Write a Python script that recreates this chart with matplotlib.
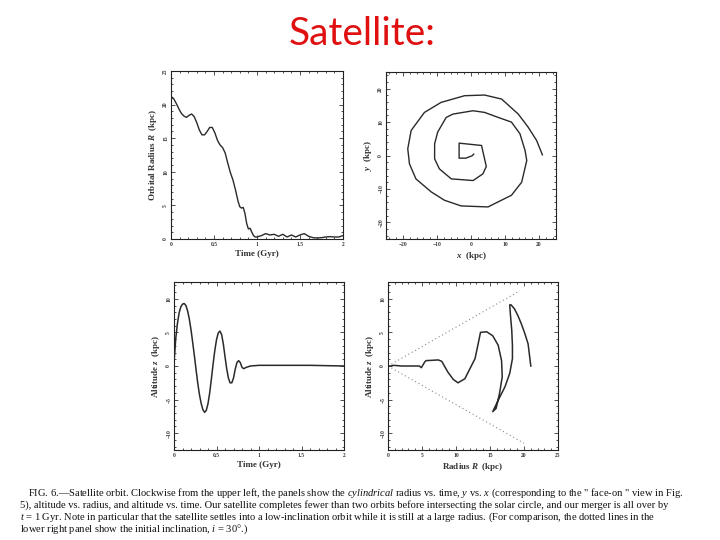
import matplotlib
matplotlib.use("Agg")
import matplotlib.pyplot as plt
from matplotlib.ticker import MultipleLocator, FuncFormatter

plt.rcParams['mathtext.fontset'] = 'custom'
plt.rcParams['mathtext.rm'] = 'Liberation Serif'
plt.rcParams['mathtext.it'] = 'Liberation Serif:italic'
plt.rcParams['mathtext.sf'] = 'Liberation Serif:bold:italic'

# ---- data: orbital radius vs time ----
t1 = [0, 0.03, 0.06, 0.09, 0.12, 0.15, 0.18, 0.21, 0.24, 0.27, 0.30, 0.33, 0.36, 0.39,
      0.42, 0.45, 0.48, 0.51, 0.54, 0.57, 0.60, 0.63, 0.66, 0.69, 0.72, 0.75, 0.78, 0.80,
      0.82, 0.84, 0.86, 0.88, 0.90, 0.92, 0.94, 0.96, 0.98, 1.0, 1.05, 1.1, 1.15, 1.2,
      1.25, 1.3, 1.35, 1.4, 1.45, 1.5, 1.55, 1.6, 1.65, 1.7, 1.75, 1.8, 1.85, 1.9, 1.95, 2.0]
R1 = [21.2, 20.9, 20.2, 19.4, 18.7, 18.3, 18.1, 18.4, 18.6, 18.2, 17.3, 16.2, 15.5, 15.5,
      16.0, 16.6, 16.6, 15.8, 14.7, 14.0, 13.6, 12.8, 11.3, 9.9, 8.8, 7.3, 5.6, 4.8,
      4.6, 4.7, 3.8, 2.3, 1.5, 1.6, 1.0, 0.5, 0.3, 0.3, 0.5, 0.8, 0.6, 0.7,
      0.4, 0.7, 0.3, 0.6, 0.3, 0.6, 0.8, 0.4, 0.2, 0.15, 0.2, 0.3, 0.35, 0.3, 0.3, 0.5]

# ---- data: y vs x (face-on) ----
x2 = [21.0, 19.3, 16.8, 13.9, 9.0, 4.0, -1.9, -8.8, -13.7, -17.6, -18.6, -18.1, -16.2,
      -11.7, -7.8, -2.9, 5.0, 11.9, 14.9, 16.4, 15.9, 14.4, 11.9, 8.0, 4.0, 0.6, -5.3,
      -7.3, -9.8, -10.7, -10.7, -9.3, -5.8, 0.6, 3.5, 4.5, 3.1, -3.5, -3.5, -1.5, -0.5, 0.3, 0.8]
y2 = [0.2, 4.5, 8.5, 12.4, 16.9, 18.1, 17.9, 15.9, 12.9, 7.5, 2.0, -2.5, -7.0,
      -10.9, -13.4, -15.1, -15.4, -11.9, -8.0, -1.5, 1.5, 6.5, 10.0, 11.4, 12.9, 13.4, 12.4,
      11.4, 7.0, 3.5, -1.0, -4.0, -7.0, -7.5, -5.5, -3.3, 3.0, 3.7, -0.8, -0.8, -0.4, -0.1, 0.4]

# ---- data: altitude vs time ----
t3 = [0, 0.01, 0.02, 0.04, 0.06, 0.08, 0.10, 0.12, 0.14, 0.16, 0.18, 0.20, 0.22, 0.24,
      0.26, 0.28, 0.30, 0.32, 0.34, 0.36, 0.38, 0.40, 0.42, 0.44, 0.46, 0.48, 0.50, 0.52,
      0.54, 0.56, 0.58, 0.60, 0.62, 0.64, 0.66, 0.68, 0.70, 0.72, 0.74, 0.76, 0.78, 0.80,
      0.82, 0.85, 0.9, 1.0, 1.2, 1.4, 1.6, 1.8, 2.0]
z3 = [0.5, 2.2, 4.0, 6.3, 7.9, 8.8, 9.2, 9.3, 9.0, 8.2, 7.0, 5.4, 3.5, 1.5,
      -0.6, -2.6, -4.3, -5.6, -6.5, -6.9, -6.6, -5.6, -4.0, -1.9, 0.3, 2.3, 3.9, 4.9,
      5.2, 4.7, 3.3, 1.4, -0.4, -1.8, -2.5, -2.5, -1.8, -0.5, 0.5, 0.8, 0.5, -0.2,
      -0.4, -0.2, 0.0, 0.1, 0.1, 0.1, 0.1, 0.05, 0.0]

# ---- data: altitude vs radius ----
R4 = [21.0, 20.6, 20.1, 19.6, 19.1, 18.6, 18.1, 17.9, 18.0, 18.2, 18.3, 18.3, 17.9, 17.2,
      16.2, 15.4, 15.9, 16.4, 16.8, 16.7, 16.2, 15.4, 14.5, 13.6, 13.3, 12.8, 11.8, 11.3,
      10.3, 9.6, 8.8, 7.9, 7.4, 5.6, 5.4, 4.9, 4.6, 2.0, 0.8, 0.4, 0.0]
z4 = [0.0, 3.3, 4.9, 6.3, 7.5, 8.5, 9.1, 9.1, 7.7, 5.3, 3.0, 1.1, -1.1, -3.1,
      -5.1, -6.8, -6.3, -4.1, -1.6, 0.8, 3.1, 4.5, 5.1, 5.0, 3.5, 1.1, -0.9, -1.9,
      -2.5, -2.0, -0.9, 0.7, 0.9, 0.8, 0.6, -0.25, 0.0, 0.0, 0.1, 0.0, 0.0]
incl_R_up = [0, 19.4]
incl_z_up = [0, 11.2]
incl_R_dn = [0, 20.0]
incl_z_dn = [0, -11.5]

title_text = "Satellite:"
caption_lines = [
    'FIG. 6.—Satellite orbit. Clockwise from the upper left, the panels show the $\\mathit{cylindrical}$ radius vs. time, $\\mathit{y}$ vs. $\\mathit{x}$ (corresponding to the " face-on " view in Fig.',
    '5), altitude vs. radius, and altitude vs. time. Our satellite completes fewer than two orbits before intersecting the solar circle, and our merger is all over by',
    '$\\mathit{t}$ = 1 Gyr. Note in particular that the satellite settles into a low-inclination orbit while it is still at a large radius. (For comparison, the dotted lines in the',
    'lower right panel show the initial inclination, $\\mathit{i}$ = 30°.)',
]

W, H = 720, 540
fig = plt.figure(figsize=(W / 100, H / 100), dpi=100)
fig.patch.set_facecolor('white')

def box(l, t, r, b):
    return [l / W, 1 - b / H, (r - l) / W, (b - t) / H]

line_col = '#2a2a2a'
lab_font = dict(family='Liberation Serif', fontsize=6.5, fontweight='bold', color='#333333')

def style(ax, xmaj, xmin, ymaj, ymin):
    ax.xaxis.set_major_locator(MultipleLocator(xmaj))
    ax.xaxis.set_minor_locator(MultipleLocator(xmin))
    ax.yaxis.set_major_locator(MultipleLocator(ymaj))
    ax.yaxis.set_minor_locator(MultipleLocator(ymin))
    ax.tick_params(which='both', direction='in', top=True, right=True,
                   colors='#333333', labelsize=4, pad=2, width=0.6)
    ax.tick_params(which='major', length=3)
    ax.tick_params(which='minor', length=1.5)
    for s in ax.spines.values():
        s.set_linewidth(0.8)
        s.set_color('#222222')
    for lab in ax.get_xticklabels() + ax.get_yticklabels():
        lab.set_fontfamily('Liberation Serif')
        lab.set_fontweight('bold')
    for lab in ax.get_yticklabels():
        lab.set_rotation(90)
        lab.set_va('center')

def fmt(v, pos=None):
    if abs(v - round(v)) < 1e-9:
        return "%d" % round(v)
    return "%g" % v

# panel 1
ax1 = fig.add_axes(box(171, 71, 343, 239))
ax1.plot(t1, R1, color=line_col, lw=1.0)
ax1.set_xlim(0, 2)
ax1.set_ylim(0, 25)
ax1.xaxis.set_major_formatter(FuncFormatter(fmt))
style(ax1, 0.5, 0.1, 5, 1)
ax1.set_xlabel("Time (Gyr)", labelpad=2, **lab_font)
ax1.set_ylabel(r"Orbital Radius $\mathsf{R}$  (kpc)", labelpad=3, **lab_font)

# panel 2
ax2 = fig.add_axes(box(386, 72, 556, 239))
ax2.plot(x2, y2, color=line_col, lw=1.0)
ax2.set_xlim(-25, 25)
ax2.set_ylim(-25, 25)
style(ax2, 10, 2, 10, 2)
ax2.set_xlabel(r"$\mathsf{x}$  (kpc)", labelpad=2, **lab_font)
ax2.set_ylabel(r"$\mathsf{y}$  (kpc)", labelpad=3, **lab_font)

# panel 3
ax3 = fig.add_axes(box(174, 282, 344, 450))
ax3.plot(t3, z3, color=line_col, lw=1.1)
ax3.set_xlim(0, 2)
ax3.set_ylim(-12.5, 12.5)
ax3.xaxis.set_major_formatter(FuncFormatter(fmt))
style(ax3, 0.5, 0.1, 5, 1)
ax3.set_xlabel("Time (Gyr)", labelpad=2, **lab_font)
ax3.set_ylabel(r"Altitude $\mathsf{z}$  (kpc)", labelpad=3, **lab_font)

# panel 4
ax4 = fig.add_axes(box(388, 282, 558, 450))
ax4.plot(incl_R_up, incl_z_up, color='#888888', lw=0.8, ls=(0, (1, 2.5)))
ax4.plot(incl_R_dn, incl_z_dn, color='#888888', lw=0.8, ls=(0, (1, 2.5)))
ax4.plot(R4, z4, color=line_col, lw=1.1)
ax4.set_xlim(0, 25)
ax4.set_ylim(-12.5, 12.5)
style(ax4, 5, 1, 5, 1)
ax4.set_xlabel(r"Radius $\mathsf{R}$  (kpc)", labelpad=2, **lab_font)
ax4.set_ylabel(r"Altitude $\mathsf{z}$  (kpc)", labelpad=3, **lab_font)

# title
fig.text(362 / W, 1 - 34 / H, title_text, color='#e01010', fontsize=28,
         family='Lato', ha='center', va='center')

# caption, justified line by line
cap_y = [493, 505, 517, 529]
cap_x0 = [28, 20, 20, 20]
cap_x1 = 708
base = 7.2
fig.canvas.draw()
renderer = fig.canvas.get_renderer()
sizes = []
texts = []
for i, (txt, yy, x0) in enumerate(zip(caption_lines, cap_y, cap_x0)):
    tt = fig.text(x0 / W, 1 - yy / H, txt, fontsize=base, family='Liberation Serif',
                  ha='left', va='center', color='#111111')
    texts.append(tt)
    if i < len(caption_lines) - 1:
        w = tt.get_window_extent(renderer).width
        s = min(base * (cap_x1 - x0) / w, 7.6)
        tt.set_fontsize(s)
        sizes.append(s)
texts[-1].set_fontsize(sum(sizes) / len(sizes))

fig.savefig("out.png", dpi=100, facecolor='white')
